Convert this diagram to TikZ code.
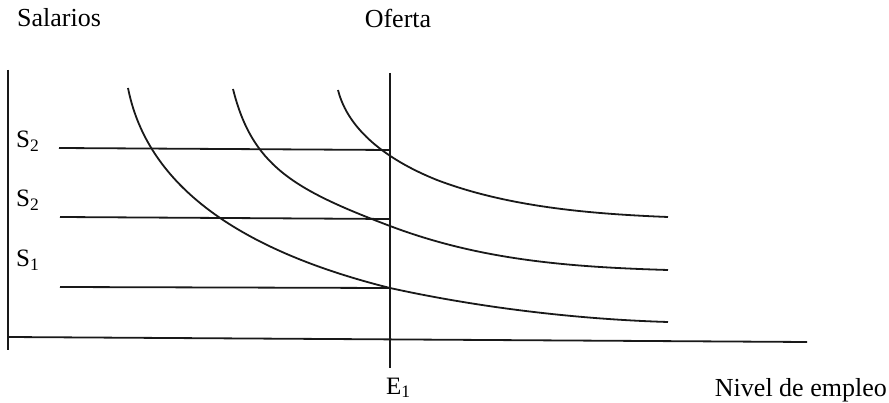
\documentclass[tikz,border=0pt]{standalone}
\usepackage{fontspec}
\setmainfont{Liberation Serif}
\begin{document}
\begin{tikzpicture}[x=1pt,y=-1pt,
  ln/.style={line width=1.8pt,black!90},
  big/.style={inner sep=0pt,font=\fontsize{26}{30}\selectfont},
  lab/.style={inner sep=0pt,font=\fontsize{25}{28}\selectfont}]
\useasboundingbox[fill=white] (0,0) rectangle (889,403);
% axes
\coordinate (ytop) at (8,70);
\coordinate (ybot) at (8,350);
\coordinate (xl) at (8,337);
\coordinate (xr) at (807,342);
\coordinate (otop) at (390,73);
\coordinate (obot) at (390,368);
\draw[ln] (ytop) -- (ybot);
\draw[ln] (xl) -- (xr);
\draw[ln] (otop) -- (obot);
% wage lines
\coordinate (a1) at (59,148); \coordinate (a2) at (390,150);
\coordinate (b1) at (60,217); \coordinate (b2) at (390,219);
\coordinate (c1) at (60,287); \coordinate (c2) at (390,288);
\draw[ln] (a1) -- (a2);
\draw[ln] (b1) -- (b2);
\draw[ln] (c1) -- (c2);
% demand curves
\coordinate (d1s) at (128,88); \coordinate (d1m) at (390,288); \coordinate (d1e) at (668,322);
\coordinate (d2s) at (233,89); \coordinate (d2m) at (390,226); \coordinate (d2e) at (668,270);
\coordinate (d3s) at (338,90); \coordinate (d3m) at (437,180); \coordinate (d3e) at (668,217);
\draw[ln] (d1s) .. controls (145,174) and (220,245.5) .. (d1m)
               .. controls (480,307.8) and (578,319.3) .. (d1e);
\draw[ln] (d2s) .. controls (252,165) and (292,189) .. (d2m)
               .. controls (480,260) and (568,267) .. (d2e);
\draw[ln] (d3s) .. controls (348,130) and (387,160) .. (d3m)
               .. controls (507,206.6) and (588,213.8) .. (d3e);
% labels
\node[big,anchor=base west] (sal) at (17,27) {Salarios};
\node[big,anchor=base] (of) at (398,28) {Oferta};
\node[big,anchor=base east] (niv) at (887,396) {Nivel de empleo};
\node[lab,anchor=base west] (s2a) at (16,148) {S\textsubscript{2}};
\node[lab,anchor=base west] (s2b) at (16,207) {S\textsubscript{2}};
\node[lab,anchor=base west] (s1) at (16,267) {S\textsubscript{1}};
\node[lab,anchor=base west] (e1) at (386,394) {E\textsubscript{1}};
\end{tikzpicture}
\end{document}
